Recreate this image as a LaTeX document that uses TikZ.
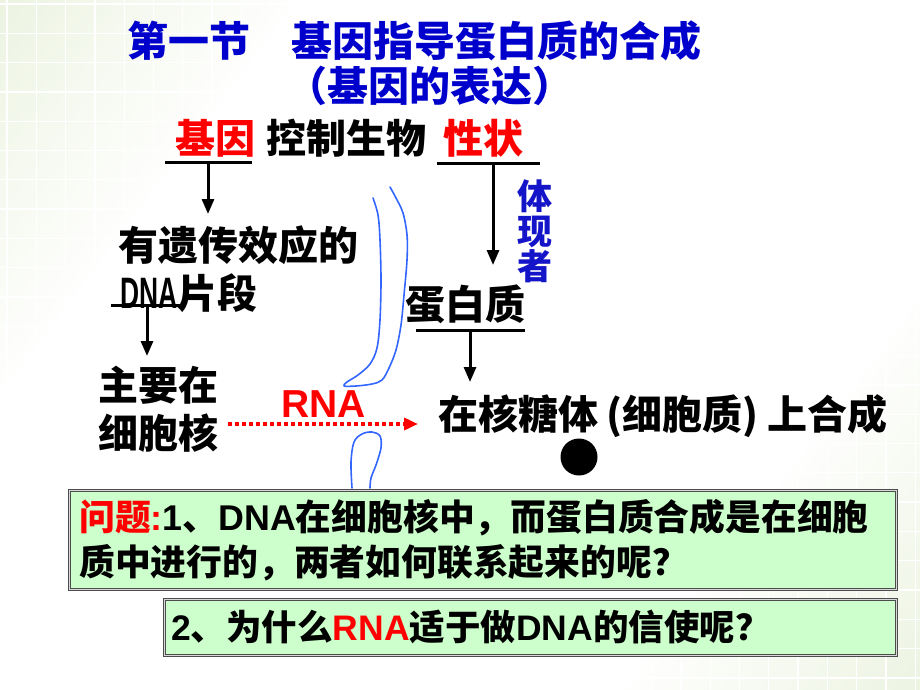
\documentclass[tikz,border=0pt]{standalone}
\usepackage{fontspec}
\setmainfont{Noto Sans CJK SC}
\newfontfamily\latf{Liberation Sans}
\usetikzlibrary{arrows.meta}
\definecolor{bgg}{RGB}{218,232,196}
\definecolor{ttlblue}{RGB}{0,0,204}
\definecolor{vblue}{RGB}{20,20,200}
\definecolor{pen}{RGB}{51,102,255}
\definecolor{qfill}{RGB}{204,255,204}
\definecolor{myred}{RGB}{255,0,0}
\newcommand{\fsz}[1]{\fontsize{#1}{#1}\selectfont}
\newcommand{\lat}[1]{{\latf #1}}
\pgfdeclarehorizontalshading{bgsh}{100bp}{color(0bp)=(bgg); color(30bp)=(white); color(70bp)=(white); color(100bp)=(bgg)}
\begin{document}
\begin{tikzpicture}[x=1pt,y=-1pt,
  txt/.style={inner sep=0pt, anchor=base west, font=\bfseries\fsz{40}},
  ttl/.style={inner sep=0pt, anchor=base west, font=\bfseries\fsz{41}, text=ttlblue},
  ul/.style={line width=3pt},
  arr/.style={-{Triangle[length=15pt,width=12pt]}, line width=3pt},
  penline/.style={pen, line width=1.6pt, line cap=round, line join=round},
  qbox/.style={draw=black!70, double=white!85!black, double distance=1.3pt, line width=0.9pt, fill=qfill, inner sep=0pt, anchor=north west},
  qtxt/.style={inner sep=0pt, anchor=base west, font=\bfseries\fsz{35.8}}
]
\useasboundingbox (0,0) rectangle (920,690);
% background
\shade[shading=bgsh, shading angle=-37] (0,0) rectangle (920,690);
\foreach \i in {0,...,31} \draw[white, line width=1.3pt] (7+\i*29.3,0) -- (7+\i*29.3,690);
\foreach \j in {0,...,23} \draw[white, line width=1.3pt] (0,4+\j*29.3) -- (920,4+\j*29.3);

% title
\node[ttl] (t1) at (127,57) {第一节　基因指导蛋白质的合成};
\node[ttl] (t2) at (286,102) {（基因的表达）};

% top line
\node[txt, text=myred] (gene) at (175,153) {基因};
\node[txt] (ctrl) at (266,153) {控制生物};
\node[txt, text=myred] (trait) at (443,153) {性状};

\coordinate (g1) at (165,162); \coordinate (g2) at (252,162);
\draw[ul] (g1) -- (g2);
\coordinate (ga) at (208,162);
\coordinate (s1) at (437,163); \coordinate (s2) at (540,163);
\draw[ul] (s1) -- (s2);
\coordinate (sa) at (493,163);

\node[inner sep=0pt, align=center, font=\bfseries\fsz{35}, text=vblue] (tx) at (535,231) {体\\现\\者};

\node[txt] (eff) at (118,260) {有遗传效应的};
\node[txt] (dna) at (120,308) {\lat{\scalebox{0.66}[1.1]{DNA}}片段};
\coordinate (d1) at (111,305); \coordinate (d2) at (183,305);
\draw[ul] (d1) -- (d2);
\coordinate (da) at (147,305);

\node[txt] (prot) at (405,319) {蛋白质};
\coordinate (p1) at (416,330); \coordinate (p2) at (525,330);
\draw[ul] (p1) -- (p2);
\coordinate (pa) at (470,330);

\node[txt] (nuc1) at (98,400) {主要在};
\node[txt] (nuc2) at (98,448) {细胞核};
\node[txt] (ribo) at (438,429) {在核糖体\hspace{8pt}(细胞质)\hspace{9pt}上合成};

\node[inner sep=0pt, anchor=base west, font=\latf\bfseries\fsz{39}, text=myred] (rna) at (281,417) {RNA};

\draw[arr] (ga) -- (208,214) coordinate (gend);
\draw[arr] (sa) -- (493,265) coordinate (send);
\draw[arr] (da) -- (147,356) coordinate (dend);
\draw[arr] (pa) -- (470,382) coordinate (pend);

\coordinate (ra) at (228,424);
\coordinate (rb) at (418,424);
\draw[myred, line width=3.5pt, dash pattern=on 3.5pt off 3.5pt, -{Triangle[length=14pt,width=12pt]}] (ra) -- (rb);

\node[circle, fill=black, minimum size=37pt, inner sep=0pt] (dot) at (579,457) {};

% pen strokes
\draw[penline] plot[smooth, tension=0.55] coordinates {(373,198) (378,215) (380,240) (381,280) (380,320) (377,348) (370,364) (358,375) (347,382) (344,386) (356,386) (372,384) (382,380) (389,368) (396,350) (401,325) (404,295) (407,260) (407,235) (403,213) (396,198) (390,187)};
\draw[penline] plot[smooth, tension=0.55] coordinates {(352,488) (351,462) (354,442) (362,434) (372,432) (380,436) (381,448) (376,465) (371,478) (370,488)};

% question boxes
\node[qbox, minimum width=827pt, minimum height=99pt] (q1) at (69,490) {};
\node[qtxt] (q1a) at (79,530) {\textcolor{myred}{问题\lat{:}}\lat{1}、\lat{DNA}在细胞核中，而蛋白质合成是在细胞};
\node[qtxt] (q1b) at (79,575) {质中进行的，两者如何联系起来的呢？};
\node[qbox, minimum width=732pt, minimum height=56pt] (q2) at (164,599) {};
\node[qtxt, font=\bfseries\fsz{35.5}] (q2a) at (171,640) {\lat{2}、为什么\textcolor{myred}{\lat{RNA}}适于做\lat{DNA}的信使呢？};
\end{tikzpicture}
\end{document}
